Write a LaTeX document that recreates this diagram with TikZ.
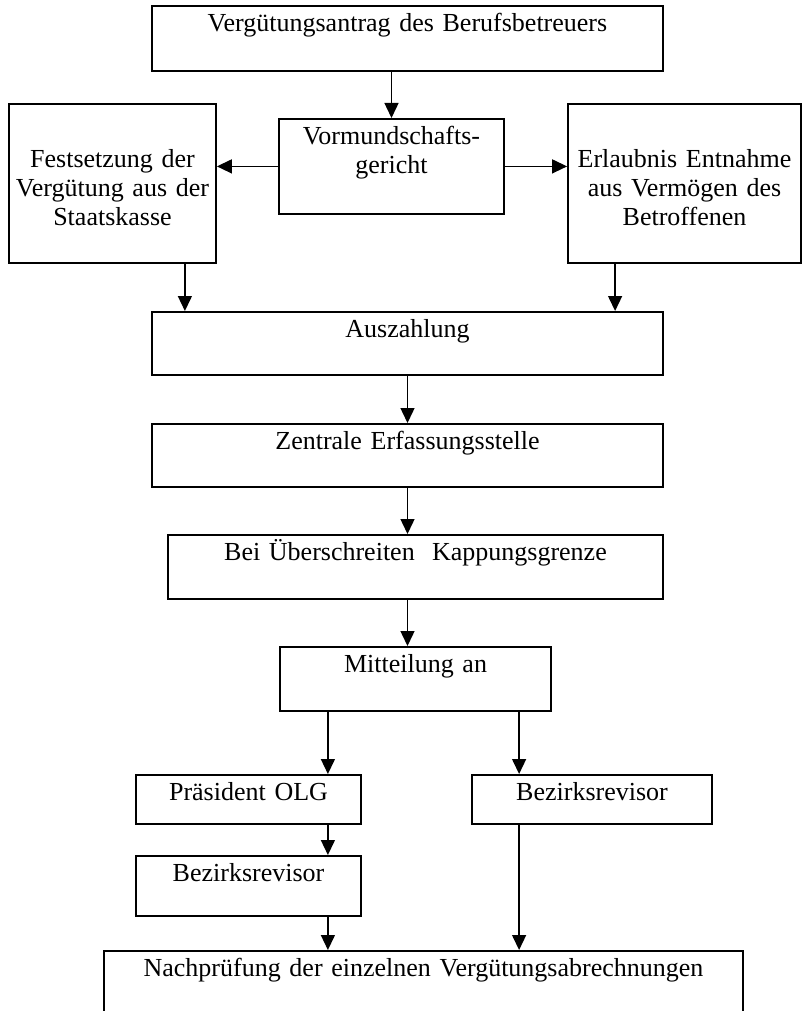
\documentclass[tikz,border=0pt]{standalone}
\usepackage{fontspec}
\setmainfont{Liberation Serif}
\usetikzlibrary{arrows.meta}

\tikzset{
	box/.style={draw, line width=1.8pt, anchor=north, align=center,
		inner xsep=0pt, inner ysep=8pt, text height=18pt,
		font=\fontsize{26}{29}\selectfont},
	arr/.style={line width=1.4pt, -{Triangle[length=15pt,width=14pt]}}
}

\begin{document}
\begin{tikzpicture}[x=1pt, y=-1pt]
	\useasboundingbox (0,0) rectangle (802,1011);
	% Boxes:
	\node[box, text width=511pt, text depth=31pt] (antrag) at (407.5,5)
		{Vergütungsantrag des Berufsbetreuers};
	\node[box, text width=225pt, text depth=61pt] (gericht) at (391.5,118)
		{Vormundschafts-\\gericht};
	\node[box, text width=207pt, text height=56pt, text depth=87pt] (festsetzung) at (112.5,103)
		{Festsetzung der\\Vergütung aus der\\Staatskasse};
	\node[box, text width=233pt, text height=56pt, text depth=87pt] (erlaubnis) at (684.5,103)
		{Erlaubnis Entnahme\\aus Vermögen des\\Betroffenen};
	\node[box, text width=511pt, text depth=29pt] (auszahlung) at (407.5,311)
		{Auszahlung};
	\node[box, text width=511pt, text depth=29pt] (zentrale) at (407.5,423)
		{Zentrale Erfassungsstelle};
	\node[box, text width=495pt, text depth=30pt] (kappung) at (415.5,534)
		{Bei Überschreiten\ \ Kappungsgrenze};
	\node[box, text width=271pt, text depth=30pt] (mitteilung) at (415.5,646)
		{Mitteilung an};
	\node[box, text width=225pt, text depth=15pt] (praesident) at (248.5,774)
		{Präsident OLG};
	\node[box, text width=240pt, text depth=15pt] (revisorR) at (592,774)
		{Bezirksrevisor};
	\node[box, text width=225pt, text depth=26pt] (revisorL) at (248.5,855)
		{Bezirksrevisor};
	\node[box, text width=639pt, text depth=46pt] (nachpruefung) at (423.5,950)
		{Nachprüfung der einzelnen Vergütungsabrechnungen};

	% Arrows:
	\draw[arr] (gericht.north |- antrag.south) -- (gericht.north);
	\draw[arr] (gericht.west) -- (gericht.west -| festsetzung.east);
	\draw[arr] (gericht.east) -- (gericht.east -| erlaubnis.west);
	\draw[arr] ([xshift=-32pt]festsetzung.south east)
		-- ([xshift=-32pt]festsetzung.south east |- auszahlung.north);
	\draw[arr] ([xshift=48pt]erlaubnis.south west)
		-- ([xshift=48pt]erlaubnis.south west |- auszahlung.north);
	\draw[arr] (auszahlung.south) -- (zentrale.north);
	\draw[arr] (zentrale.south) -- (zentrale.south |- kappung.north);
	\draw[arr] (zentrale.south |- kappung.south) -- (zentrale.south |- mitteilung.north);
	\draw[arr] ([xshift=-34pt]praesident.north east |- mitteilung.south)
		-- ([xshift=-34pt]praesident.north east);
	\draw[arr] ([xshift=48pt]revisorR.north west |- mitteilung.south)
		-- ([xshift=48pt]revisorR.north west);
	\draw[arr] ([xshift=-34pt]praesident.south east)
		-- ([xshift=-34pt]revisorL.north east);
	\draw[arr] ([xshift=-34pt]revisorL.south east)
		-- ([xshift=-34pt]revisorL.south east |- nachpruefung.north);
	\draw[arr] ([xshift=48pt]revisorR.south west)
		-- ([xshift=48pt]revisorR.south west |- nachpruefung.north);
\end{tikzpicture}
\end{document}
